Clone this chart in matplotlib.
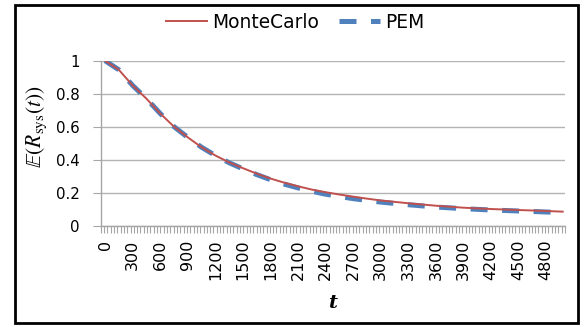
import numpy as np
import matplotlib.pyplot as plt
from matplotlib.patches import Rectangle
from matplotlib.ticker import FixedLocator

# data
t_values = [0, 150, 300, 450, 600, 750, 900, 1050, 1200, 1350, 1500, 1650, 1800,
            1950, 2100, 2250, 2400, 2550, 2700, 2850, 3000, 3300, 3600, 3900,
            4200, 4500, 4800, 4980]
monte_carlo = [1.0, 0.945, 0.85, 0.77, 0.68, 0.60, 0.535, 0.475, 0.425, 0.383,
               0.348, 0.315, 0.285, 0.26, 0.238, 0.218, 0.202, 0.188, 0.175,
               0.163, 0.152, 0.135, 0.12, 0.108, 0.1, 0.094, 0.088, 0.084]
pem = [1.0, 0.945, 0.85, 0.77, 0.68, 0.60, 0.535, 0.475, 0.425, 0.381,
       0.344, 0.309, 0.278, 0.251, 0.228, 0.208, 0.19, 0.176, 0.163,
       0.152, 0.142, 0.126, 0.112, 0.102, 0.094, 0.088, 0.082, 0.078]
x_labels = list(range(0, 4801, 300))
y_ticks = [0, 0.2, 0.4, 0.6, 0.8, 1]

plt.rcParams['font.family'] = ['DejaVu Sans']
plt.rcParams['mathtext.fontset'] = 'stix'

W, H = 587, 327
fig = plt.figure(figsize=(W / 100, H / 100), dpi=100)

# black chart border like the Excel chart frame
fig.patches.append(Rectangle((15 / W, 4 / H), 563 / W, 318 / H, transform=fig.transFigure,
                             fill=False, edgecolor='black', linewidth=2.0))

ax = fig.add_axes([100.7 / W, 1 - 225.5 / H, (565 - 100.7) / W, (225.5 - 60.7) / H])

ax.plot(t_values, monte_carlo, color='#C0504D', linewidth=1.4, label='MonteCarlo', zorder=3)
ax.plot(t_values, pem, color='#4F81BD', linewidth=3.6, dashes=(3.4, 2.9),
        dash_capstyle='butt', label='PEM', zorder=2)

xmin, xmax = -47, 5005
ax.set_xlim(xmin, xmax)
ax.set_ylim(0, 1)

ax.set_xticks(x_labels)
ax.set_xticklabels([str(v) for v in x_labels], rotation=90, fontsize=11.5)
ax.xaxis.set_minor_locator(FixedLocator(np.linspace(xmin, xmax, 141)))
ax.tick_params(axis='x', which='major', length=0, pad=10)
ax.tick_params(axis='x', which='minor', length=5, color='#a6a6a6', width=0.8)

ax.set_yticks(y_ticks)
ax.set_yticklabels(['0', '0.2', '0.4', '0.6', '0.8', '1'], fontsize=10.8)
ax.tick_params(axis='y', length=6, color='#a6a6a6', width=0.8, pad=9)

ax.grid(axis='y', color='#b3b3b3', linewidth=1.0)
ax.set_axisbelow(True)
for side in ['top', 'right']:
    ax.spines[side].set_visible(False)
for side in ['left', 'bottom']:
    ax.spines[side].set_color('#a6a6a6')
    ax.spines[side].set_linewidth(1.0)

fig.text(37 / W, 1 - 127 / H, r'$\mathbb{E}(R_{\mathrm{sys}}(t))$', rotation=90,
         ha='center', va='center', fontsize=15.5)
fig.text(333 / W, 1 - 303 / H, 't', ha='center', va='center', fontsize=14,
         family='DejaVu Serif', style='italic', weight='bold')

fig.legend(loc='center', bbox_to_anchor=(295 / W, 1 - 22 / H), ncol=2, frameon=False,
           fontsize=13.4, handlelength=2.2, columnspacing=1.1, handletextpad=0.25)

fig.savefig('out.png', dpi=100)
